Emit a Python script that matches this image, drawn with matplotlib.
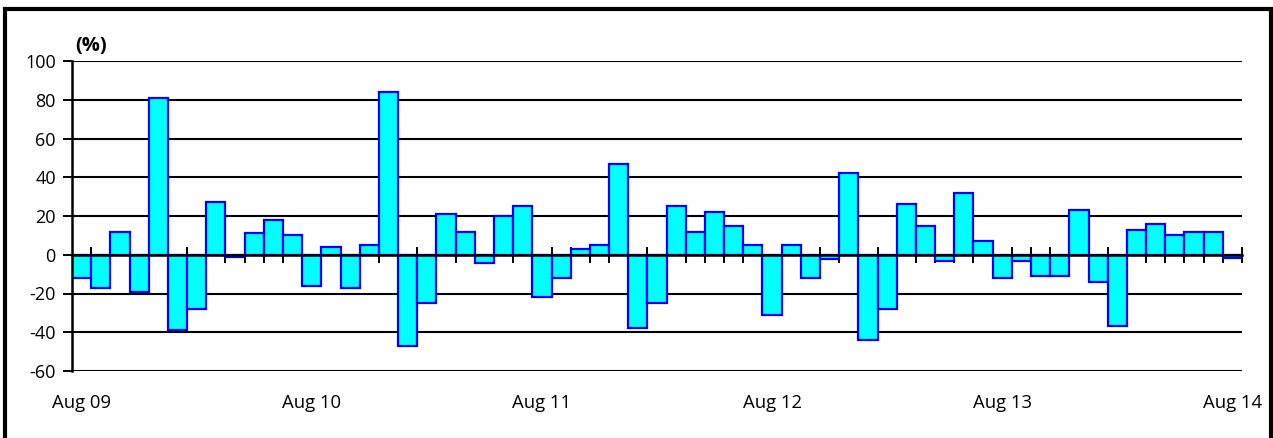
import numpy as np
import matplotlib
matplotlib.use("Agg")
import matplotlib.pyplot as plt
from matplotlib.patches import Rectangle

plt.rcParams['font.family'] = ['Open Sans', 'DejaVu Sans']

values = [-12, -17, 12, -19, 81, -39, -28, 27, -1, 11, 18, 10,
          -16, 4, -17, 5, 84, -47, -25, 21, 12, -4, 20, 25,
          -22, -12, 3, 5, 47, -38, -25, 25, 12, 22, 15, 5,
          -31, 5, -12, -2, 42, -44, -28, 26, 15, -3, 32, 7,
          -12, -3, -11, -11, 23, -14, -37, 13, 16, 10, 12, 12,
          -1.5]
year_labels = ["Aug 09", "Aug 10", "Aug 11", "Aug 12", "Aug 13", "Aug 14"]
y_ticks = [-60, -40, -20, 0, 20, 40, 60, 80, 100]
unit_label = "(%)"

W, H = 1273, 438
fig = plt.figure(figsize=(W / 100, H / 100), dpi=100)
ax = fig.add_axes([72 / W, (H - 371) / H, (1242 - 72) / W, (371 - 61) / H])

n = len(values)
x = np.arange(n)
ax.bar(x, values, width=1.0, align='edge', color='#00FFFF',
       edgecolor='#0000FF', linewidth=1.6, zorder=3)

ax.set_xlim(0, n)
ax.set_ylim(y_ticks[0], y_ticks[-1])
for yv in y_ticks:
    ax.axhline(yv, color='black', linewidth=1.5, zorder=1)

ax.set_yticks(y_ticks)
ax.set_yticklabels([str(v) for v in y_ticks], fontsize=13)
ax.tick_params(axis='y', direction='out', length=6.2, width=1.4, pad=5.5)

for s in ['top', 'right']:
    ax.spines[s].set_visible(False)
ax.spines['left'].set_linewidth(1.8)
ax.spines['left'].set_zorder(4)
ax.spines['bottom'].set_position(('data', 0))
ax.spines['bottom'].set_linewidth(1.8)
ax.spines['bottom'].set_zorder(4)
ax.set_xticks(np.arange(1, n + 1))
ax.set_xticklabels([])
ax.tick_params(axis='x', direction='inout', length=11, width=1.4)

for i, lab in enumerate(year_labels):
    pos = min(i * 12, n - 1) + 0.5
    ax.text(pos, -0.119, lab, transform=ax.get_xaxis_transform(),
            ha='center', va='baseline', fontsize=13.3)

fig.text(75 / W, 1 - 46.5 / H, unit_label, fontsize=14.5, fontweight='bold',
         ha='left', va='center')

fig.patches.append(Rectangle((5.5 / W, -0.05), (1270.5 - 5.5) / W, 1.05 - 8.5 / H,
                             transform=fig.transFigure, fill=False,
                             edgecolor='black', linewidth=3))

fig.savefig("out.png", dpi=100)
